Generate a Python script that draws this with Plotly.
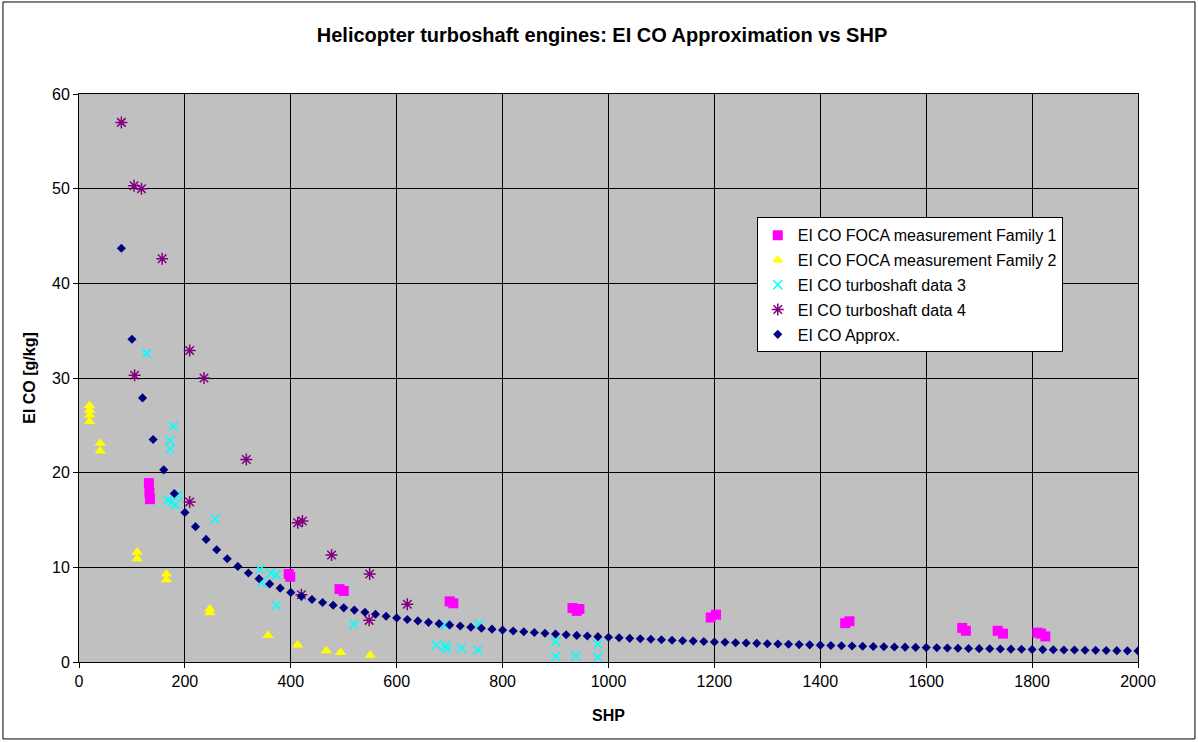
import plotly.graph_objects as go

# FOCA measurements, engine family 1 (SHP, EI CO g/kg)
fam1_shp = [132, 133, 134, 396, 399, 492, 500, 700, 707, 932, 940, 945,
            1193, 1203, 1447, 1455, 1668, 1675, 1735, 1745, 1810, 1817, 1825]
fam1_co = [18.9, 17.9, 17.2, 9.3, 9.0, 7.7, 7.5, 6.4, 6.2, 5.7, 5.4, 5.6,
           4.7, 5.0, 4.1, 4.3, 3.6, 3.3, 3.3, 3.0, 3.1, 3.0, 2.7]

# FOCA measurements, engine family 2
fam2_shp = [20, 20, 20, 20, 40, 40, 110, 110, 165, 165, 247, 247, 357, 413, 467, 494, 550]
fam2_co = [27.1, 26.6, 26.1, 25.4, 23.1, 22.3, 11.6, 10.9, 9.3, 8.7, 5.6, 5.2, 2.8, 1.8, 1.2, 1.0, 0.7]

# Turboshaft data set 3
ts3_shp = [128, 178, 172, 172, 168, 175, 182, 187, 257, 342, 345, 362, 372, 373,
           519, 675, 692, 695, 722, 753, 691, 755, 900, 900, 938, 980, 980]
ts3_co = [32.6, 24.9, 23.4, 22.5, 17.1, 16.9, 16.6, 17.6, 15.1, 9.8, 8.4, 9.4, 9.2, 6.0,
          4.0, 1.8, 1.7, 1.4, 1.45, 1.27, 3.9, 4.0, 2.15, 0.6, 0.65, 1.9, 0.5]

# Turboshaft data set 4
ts4_shp = [80, 104, 118, 157, 105, 209, 236, 316, 209, 413, 422, 477, 549, 420, 548, 620]
ts4_co = [57.0, 50.3, 50.0, 42.6, 30.3, 32.9, 30.0, 21.4, 16.9, 14.7, 14.9, 11.3, 9.3, 7.1, 4.4, 6.1]

# Approximation curve
approx_shp = [80, 100, 120, 140, 160, 180, 200, 220, 240, 260, 280, 300, 320, 340, 360, 380,
              400, 420, 440, 460, 480, 500, 520, 540, 560, 580, 600, 620, 640, 660, 680, 700,
              720, 740, 760, 780, 800, 820, 840, 860, 880, 900, 920, 940, 960, 980, 1000,
              1020, 1040, 1060, 1080, 1100, 1120, 1140, 1160, 1180, 1200, 1220, 1240, 1260,
              1280, 1300, 1320, 1340, 1360, 1380, 1400, 1420, 1440, 1460, 1480, 1500, 1520,
              1540, 1560, 1580, 1600, 1620, 1640, 1660, 1680, 1700, 1720, 1740, 1760, 1780,
              1800, 1820, 1840, 1860, 1880, 1900, 1920, 1940, 1960, 1980, 2000]
approx_co = [43.7, 34.1, 27.9, 23.5, 20.3, 17.8, 15.8, 14.3, 12.95, 11.85, 10.9, 10.1, 9.4, 8.8,
             8.25, 7.8, 7.35, 6.95, 6.6, 6.28, 5.99, 5.72, 5.48, 5.25, 5.04, 4.84, 4.66, 4.49,
             4.34, 4.19, 4.05, 3.92, 3.80, 3.68, 3.57, 3.47, 3.37, 3.28, 3.19, 3.11, 3.03, 2.95,
             2.88, 2.81, 2.74, 2.68, 2.62, 2.56, 2.50, 2.45, 2.40, 2.35, 2.30, 2.25, 2.21, 2.16,
             2.12, 2.08, 2.04, 2.01, 1.97, 1.93, 1.90, 1.87, 1.84, 1.81, 1.78, 1.75, 1.72, 1.69,
             1.66, 1.64, 1.61, 1.59, 1.57, 1.54, 1.52, 1.50, 1.48, 1.46, 1.43, 1.41, 1.40, 1.38,
             1.36, 1.34, 1.32, 1.31, 1.29, 1.27, 1.26, 1.24, 1.23, 1.21, 1.20, 1.18, 1.17]

FONT = "Liberation Sans, Arial, sans-serif"

fig = go.Figure()

fig.add_trace(go.Scatter(
    x=fam1_shp, y=fam1_co, mode="markers", name="EI CO FOCA measurement Family 1",
    legendgroup="a",
    marker=dict(symbol="square", size=10, color="#FF00FF")))
fig.add_trace(go.Scatter(
    x=fam2_shp, y=fam2_co, mode="markers", name="EI CO FOCA measurement Family 2",
    legendgroup="b",
    marker=dict(symbol="triangle-up", size=10, color="#FFFF00")))
fig.add_trace(go.Scatter(
    x=ts3_shp, y=ts3_co, mode="markers", name="EI CO turboshaft data 3",
    legendgroup="c",
    marker=dict(symbol="x-thin-open", size=9, color="#00FFFF",
                line=dict(color="#00FFFF", width=1.6))))
fig.add_trace(go.Scatter(
    x=ts4_shp, y=ts4_co, mode="markers", name="EI CO turboshaft data 4",
    legendgroup="d",
    marker=dict(symbol="asterisk-open", size=10, color="#800080",
                line=dict(color="#800080", width=1.5))))
fig.add_trace(go.Scatter(
    x=approx_shp, y=approx_co, mode="markers", name="EI CO Approx.",
    legendgroup="e",
    marker=dict(symbol="diamond", size=7, color="#000080")))

axis_common = dict(
    showgrid=True, gridcolor="#000000", gridwidth=1,
    showline=True, linecolor="#000000", linewidth=1, mirror=True,
    ticks="outside", ticklen=5, tickcolor="#000000",
    zeroline=False,
    tickfont=dict(family=FONT, size=16, color="#000000"),
)

fig.update_layout(
    width=1198, height=742,
    margin=dict(l=79, r=60, t=94, b=80),
    paper_bgcolor="#FFFFFF",
    plot_bgcolor="#C0C0C0",
    font=dict(family=FONT, size=16, color="#000000"),
    title=dict(
        text="Helicopter turboshaft engines: EI CO Approximation vs SHP",
        font=dict(family=FONT, size=20, color="#000000", weight="bold"),
        x=0.5025, xanchor="center", y=0.953, yanchor="middle"),
    xaxis=dict(
        range=[0, 2000], dtick=200, tick0=0,
        title=dict(text="SHP", standoff=20,
                   font=dict(family=FONT, size=16, weight="bold")),
        **axis_common),
    yaxis=dict(
        range=[0, 60], dtick=10, tick0=0,
        title=dict(text="EI CO [g/kg]", standoff=12,
                   font=dict(family=FONT, size=16, weight="bold")),
        **axis_common),
    legend=dict(
        x=0.640, y=0.783, xanchor="left", yanchor="top",
        bgcolor="#FFFFFF", bordercolor="#000000", borderwidth=1,
        font=dict(family=FONT, size=16, color="#000000"),
        tracegroupgap=1, itemwidth=30),
    showlegend=True,
    shapes=[dict(type="rect", xref="paper", yref="paper",
                 x0=-0.0718, x1=1.0538, y0=-0.1355, y1=1.162,
                 line=dict(color="#000000", width=1), fillcolor="rgba(0,0,0,0)",
                 layer="below")],
)

fig.write_html("out.html")
